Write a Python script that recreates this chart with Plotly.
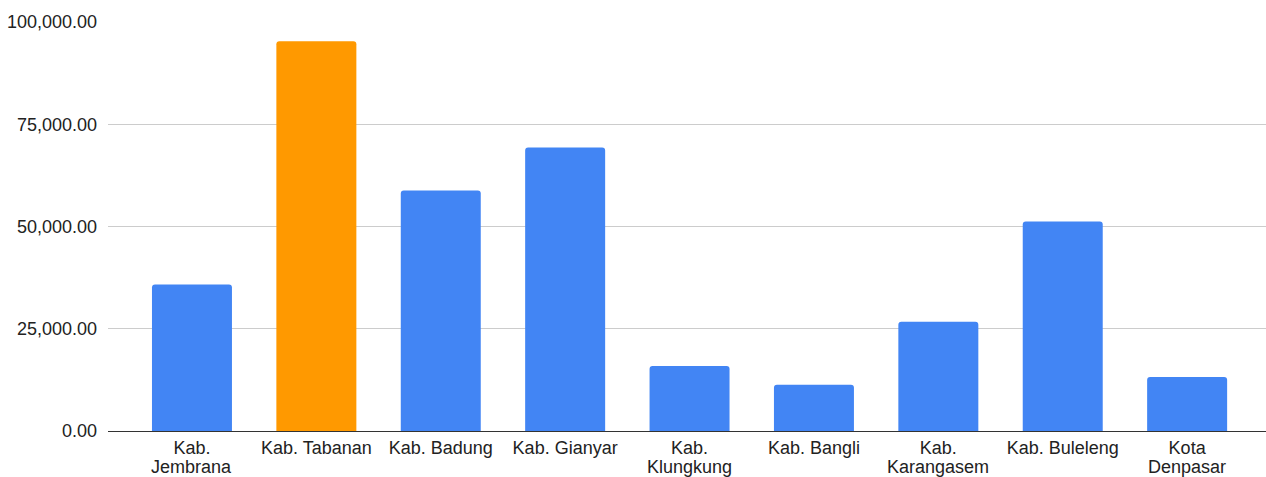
import plotly.graph_objects as go

# Kabupaten / kota in Bali (long names wrap onto a second line)
regions = [
    "Kab. Jembrana",
    "Kab. Tabanan",
    "Kab. Badung",
    "Kab. Gianyar",
    "Kab. Klungkung",
    "Kab. Bangli",
    "Kab. Karangasem",
    "Kab. Buleleng",
    "Kota Denpasar",
]
label_line1 = ["Kab.", "Kab. Tabanan", "Kab. Badung", "Kab. Gianyar", "Kab.",
               "Kab. Bangli", "Kab.", "Kab. Buleleng", "Kota"]
label_line2 = ["Jembrana", "", "", "", "Klungkung", "", "Karangasem", "", "Denpasar"]
values = [35800, 95300, 58800, 69300, 15900, 11300, 26700, 51200, 13200]
highlight = "Kab. Tabanan"

y_ticks = [0, 25000, 50000, 75000, 100000]
y_labels = ["0.00", "25,000.00", "50,000.00", "75,000.00", "100,000.00"]

colors = ["#FF9900" if r == highlight else "#4285F4" for r in regions]

fig = go.Figure(go.Bar(
    x=list(range(len(regions))),
    y=values,
    marker=dict(color=colors, line=dict(width=0), cornerradius=3),
    customdata=regions,
    hovertemplate="%{customdata}: %{y:,.2f}<extra></extra>",
))

font = dict(family="Liberation Sans, Arial, sans-serif", size=18, color="#222222")

# second line of the wrapped category labels
for i, txt in enumerate(label_line2):
    if txt:
        fig.add_annotation(x=i, y=0, xref="x", yref="paper", text=txt,
                           showarrow=False, yanchor="middle", yshift=-36,
                           font=font)

fig.update_layout(
    width=1266,
    height=477,
    margin=dict(l=108, r=0, t=22, b=46),
    paper_bgcolor="white",
    plot_bgcolor="white",
    bargap=0.357,
    showlegend=False,
    font=font,
    xaxis=dict(
        range=[-0.675, 8.634],
        tickmode="array",
        tickvals=list(range(len(regions))),
        ticktext=label_line1,
        showgrid=False,
        zeroline=False,
        showline=False,
        ticks="",
        ticklabelstandoff=4,
        automargin=False,
    ),
    yaxis=dict(
        range=[0, 100000],
        tickmode="array",
        tickvals=y_ticks,
        ticktext=y_labels,
        showgrid=True,
        gridcolor="#cccccc",
        gridwidth=1,
        zeroline=True,
        zerolinecolor="#333333",
        zerolinewidth=1,
        showline=False,
        ticks="",
        ticklabelstandoff=10,
        automargin=False,
    ),
)

# drop the browser's default body margin so the figure sits at the page corner
fig.write_html("out.html",
               config={"displayModeBar": False},
               post_script="document.body.style.margin='0';document.body.style.overflow='hidden';")
